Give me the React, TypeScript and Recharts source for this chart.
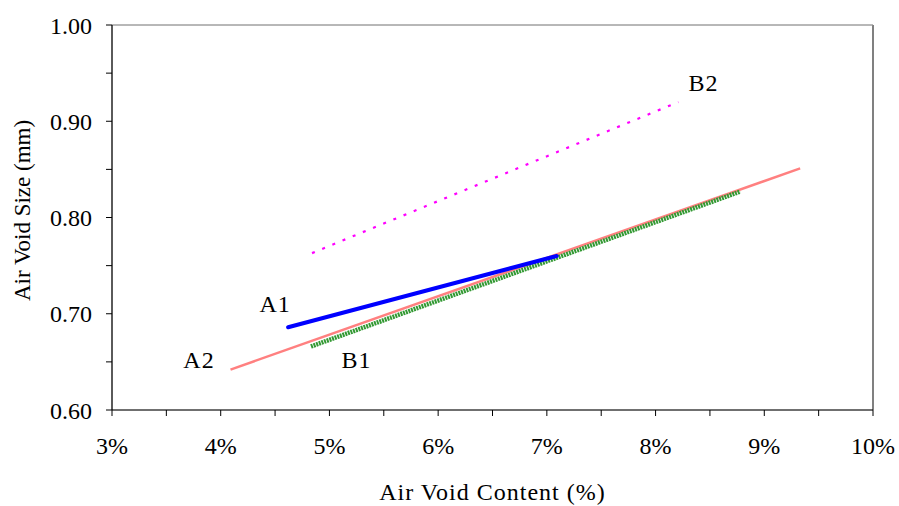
import {
  CartesianGrid,
  Line,
  LineChart,
  ReferenceDot,
  ReferenceLine,
  XAxis,
  YAxis,
} from 'recharts'

// air void content (%) -> air void size (mm)
const a1X = [4.62, 7.09]
const a1Y = [0.686, 0.76]
const a2X = [4.09, 9.33]
const a2Y = [0.642, 0.851]
const b1X = [4.83, 8.78]
const b1Y = [0.666, 0.827]
const b2X = [4.84, 8.21]
const b2Y = [0.763, 0.92]

const seriesNames = ['A1', 'A2', 'B1', 'B2']
const nameX = [4.5, 3.8, 5.25, 8.44]
const nameY = [0.711, 0.652, 0.652, 0.94]

const xMajor = [3, 4, 5, 6, 7, 8, 9, 10]
const xAll = [3, 3.5, 4, 4.5, 5, 5.5, 6, 6.5, 7, 7.5, 8, 8.5, 9, 9.5, 10]
const yMajor = [0.6, 0.7, 0.8, 0.9, 1.0]
const yAll = [0.6, 0.65, 0.7, 0.75, 0.8, 0.85, 0.9, 0.95, 1.0]

const font = '"Liberation Serif", "Times New Roman", serif'
const tickSize = 24

function pts(xs: number[], ys: number[]) {
  return xs.map((x, i) => ({ x, y: ys[i] }))
}

function XTick({ x, y, payload }: any) {
  const v = payload.value
  if (!xMajor.includes(v)) return null
  return (
    <text x={x} y={y} dy="0.71em" textAnchor="middle" fontFamily={font} fontSize={tickSize} fill="#000">
      {`${v}%`}
    </text>
  )
}

function YTick({ x, y, payload }: any) {
  const v = payload.value
  if (!yMajor.some((m) => Math.abs(m - v) < 1e-6)) return null
  return (
    <text x={x} y={y} dy="0.355em" textAnchor="end" fontFamily={font} fontSize={tickSize} fill="#000">
      {v.toFixed(2)}
    </text>
  )
}

function NameTag(label: string) {
  return (p: any) => (
    <text
      x={p.cx}
      y={p.cy}
      dy="0.355em"
      textAnchor="middle"
      fontFamily={font}
      fontSize={24}
      letterSpacing={1}
      fill="#000"
    >
      {label}
    </text>
  )
}

export default function App() {
  const axisLine = { stroke: '#000', strokeWidth: 1.2 }
  return (
    <div style={{ position: 'absolute', left: 0, top: 0, background: '#fff' }}>
      <LineChart width={899} height={506} margin={{ top: 25, right: 26, bottom: 0, left: 0 }}>
        <XAxis xAxisId="major" type="number" dataKey="x" domain={[3, 10]} ticks={xMajor} hide />
        <YAxis yAxisId="major" type="number" domain={[0.6, 1.0]} ticks={yMajor} hide />
        <CartesianGrid xAxisId="major" yAxisId="major" stroke="#c0c0c0" strokeWidth={1} />
        <XAxis
          type="number"
          dataKey="x"
          domain={[3, 10]}
          ticks={xAll}
          interval={0}
          allowDataOverflow
          height={96}
          tickSize={6}
          tickMargin={21}
          axisLine={axisLine}
          tickLine={{ stroke: '#000' }}
          tick={<XTick />}
          label={{
            content: ({ viewBox }: any) => (
              <text
                x={viewBox.x + viewBox.width / 2}
                y={viewBox.y + viewBox.height - 6}
                textAnchor="middle"
                fontFamily={font}
                fontSize={24}
                letterSpacing={1}
                fill="#000"
              >
                Air Void Content (%)
              </text>
            ),
          }}
        />
        <YAxis
          type="number"
          domain={[0.6, 1.0]}
          ticks={yAll}
          interval={0}
          allowDataOverflow
          width={112}
          tickSize={6}
          tickMargin={14}
          axisLine={axisLine}
          tickLine={{ stroke: '#000' }}
          tick={<YTick />}
          label={{
            content: ({ viewBox }: any) => {
              const cx = viewBox.x + 22
              const cy = viewBox.y + viewBox.height / 2 - 7
              return (
                <text
                  x={cx}
                  y={cy}
                  dy="0.355em"
                  textAnchor="middle"
                  transform={`rotate(-90 ${cx} ${cy})`}
                  fontFamily={font}
                  fontSize={23}
                  fill="#000"
                >
                  Air Void Size (mm)
                </text>
              )
            },
          }}
        />
        <ReferenceLine x={10} stroke="#808080" strokeWidth={2} />
        <ReferenceLine y={1.0} stroke="#909090" strokeWidth={1.2} />
        <Line
          data={pts(a2X, a2Y)}
          dataKey="y"
          stroke="#ff8080"
          strokeWidth={2.5}
          dot={false}
          isAnimationActive={false}
        />
        <Line
          data={pts(b1X, b1Y)}
          dataKey="y"
          stroke="#339933"
          strokeWidth={4.5}
          strokeDasharray="2 0.8"
          dot={false}
          isAnimationActive={false}
        />
        <Line
          data={pts(a1X, a1Y)}
          dataKey="y"
          stroke="#0000ff"
          strokeWidth={4}
          strokeLinecap="round"
          dot={false}
          isAnimationActive={false}
        />
        <Line
          data={pts(b2X, b2Y)}
          dataKey="y"
          stroke="#ff00ff"
          strokeWidth={2.2}
          strokeDasharray="3 8"
          dot={false}
          isAnimationActive={false}
        />
        {seriesNames.map((n, i) => (
          <ReferenceDot key={n} x={nameX[i]} y={nameY[i]} r={0} shape={NameTag(n)} />
        ))}
      </LineChart>
    </div>
  )
}
